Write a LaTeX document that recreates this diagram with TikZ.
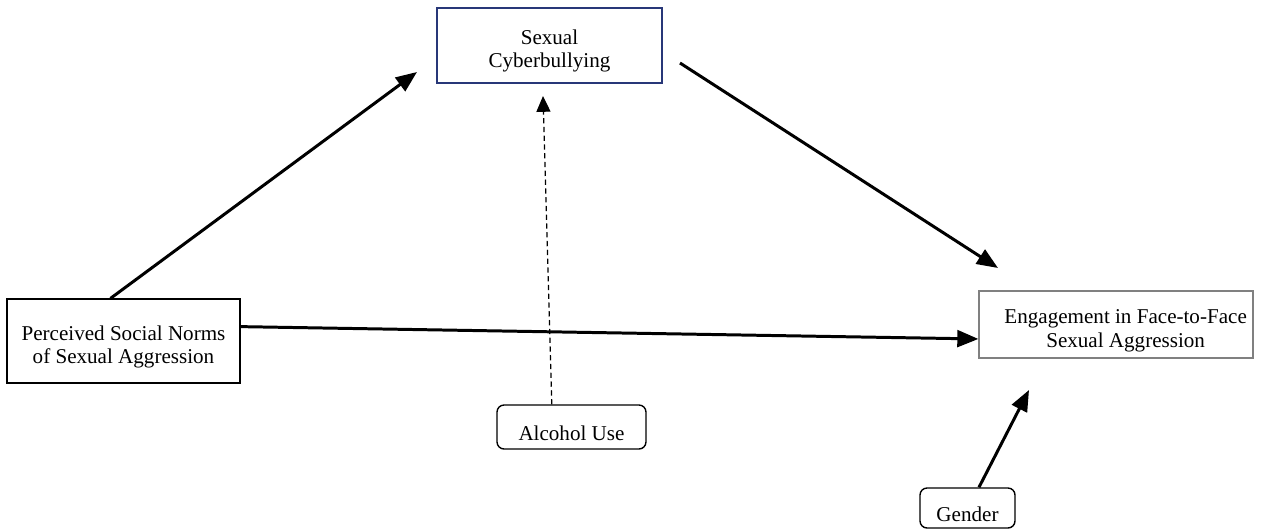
\documentclass[tikz,border=0pt]{standalone}
\usepackage{fontspec}
\setmainfont{Liberation Serif}
\usetikzlibrary{arrows.meta}
\definecolor{boxnavy}{RGB}{40,55,120}
\definecolor{boxgray}{RGB}{128,128,128}
\newcommand{\topgap}{\rule{0pt}{15pt}}
\begin{document}
\begin{tikzpicture}[x=0.02cm,y=-0.02cm,
		txt/.style={align=center,font=\fontsize{12}{13.2}\selectfont,inner sep=0pt},
		sqbox/.style={txt,draw,line width=0.7pt},
		rndbox/.style={txt,draw,rounded corners=4pt,line width=0.8pt},
		arr/.style={line width=1.7pt,-{Triangle[length=12pt,width=9.5pt]}},
		darr/.style={line width=0.7pt,dash pattern=on 3pt off 2pt,-{Triangle[length=9pt,width=8pt]}}]
		\useasboundingbox (0,0) rectangle (1262,531);

		\node [sqbox, minimum width=4.66cm, minimum height=1.68cm] (0) at (123.5,341) {\topgap Perceived Social Norms\\of Sexual Aggression};
		\node [sqbox, draw=boxnavy, minimum width=4.5cm, minimum height=1.5cm] (1) at (549.5,45.5) {\topgap Sexual\\Cyberbullying};
		\node [sqbox, draw=boxgray, minimum width=5.48cm, minimum height=1.34cm] (2) at (1116,324.5) {\topgap\hspace*{11pt}Engagement in Face-to-Face\\\hspace*{11pt}Sexual Aggression};
		\node [rndbox, minimum width=2.98cm, minimum height=0.88cm] (3) at (571.5,427) {\topgap Alcohol Use};
		\node [rndbox, minimum width=1.9cm, minimum height=0.8cm] (4) at (967.5,508) {\topgap Gender};

		\coordinate (5) at (417,72);
		\coordinate (6) at (680,63);
		\coordinate (7) at (998,268);
		\coordinate (8) at (543,96);
		\coordinate (9) at (1029,390);

		\draw [arr] (0.107) to (5);
		\draw [arr] (6) to (7);
		\draw [arr] (0.7) to (2.186);
		\draw [darr] (3.131) to (8);
		\draw [arr] (4.61) to (9);
\end{tikzpicture}
\end{document}
